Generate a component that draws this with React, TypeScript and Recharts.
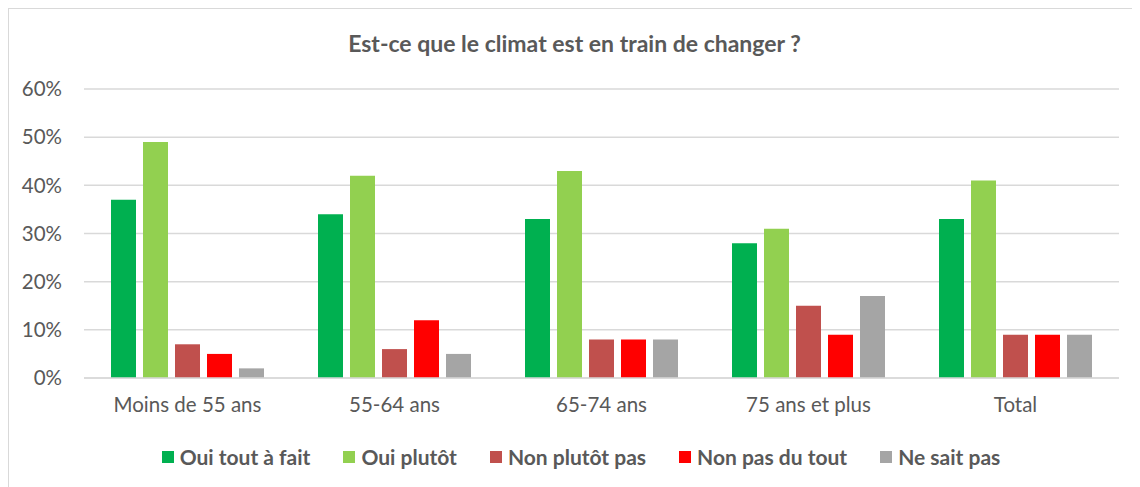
import React from 'react';
import { BarChart, Bar, XAxis, YAxis, CartesianGrid, Legend } from 'recharts';

const categories = ['Moins de 55 ans', '55-64 ans', '65-74 ans', '75 ans et plus', 'Total'];
const ouiToutAFait = [37, 34, 33, 28, 33];
const ouiPlutot = [49, 42, 43, 31, 41];
const nonPlutotPas = [7, 6, 8, 15, 9];
const nonPasDuTout = [5, 12, 8, 9, 9];
const neSaitPas = [2, 5, 8, 17, 9];
const yTicks = [0, 10, 20, 30, 40, 50, 60];

const series = [
  { key: 'ouiToutAFait', name: 'Oui tout à fait', color: '#00B050' },
  { key: 'ouiPlutot', name: 'Oui plutôt', color: '#92D050' },
  { key: 'nonPlutotPas', name: 'Non plutôt pas', color: '#C0504D' },
  { key: 'nonPasDuTout', name: 'Non pas du tout', color: '#FF0000' },
  { key: 'neSaitPas', name: 'Ne sait pas', color: '#A5A5A5' },
];

const data = categories.map((cat, i) => ({
  cat,
  ouiToutAFait: ouiToutAFait[i],
  ouiPlutot: ouiPlutot[i],
  nonPlutotPas: nonPlutotPas[i],
  nonPasDuTout: nonPasDuTout[i],
  neSaitPas: neSaitPas[i],
}));

const FONT = 'Lato, "Open Sans", sans-serif';
const TEXT = '#595959';

const LegendContent = () => (
  <div style={{ display: 'flex', justifyContent: 'center', gap: 33, paddingTop: 26, paddingLeft: 34, fontFamily: FONT, fontWeight: 700, fontSize: 21, color: TEXT }}>
    {series.map((s) => (
      <div key={s.key} style={{ display: 'flex', alignItems: 'center' }}>
        <span style={{ width: 12, height: 12, background: s.color, marginRight: 6, display: 'inline-block' }} />
        <span>{s.name}</span>
      </div>
    ))}
  </div>
);

export default function App() {
  return (
    <div style={{ position: 'relative', width: 1132, height: 479, boxSizing: 'border-box', borderLeft: '1px solid #d9d9d9', borderTop: '1px solid #d9d9d9', background: '#fff' }}>
      <div style={{ position: 'absolute', top: 20, left: 0, width: 1131, textAlign: 'center', fontFamily: FONT, fontWeight: 700, fontSize: 23, color: TEXT }}>
        Est-ce que le climat est en train de changer ?
      </div>
      <BarChart
        width={1131}
        height={478}
        data={data}
        margin={{ top: 80, right: 21, left: 0, bottom: 0 }}
        barCategoryGap={27}
        barGap={7}
      >
        <CartesianGrid vertical={false} stroke="#d9d9d9" strokeWidth={1.5} />
        <XAxis
          dataKey="cat"
          height={40}
          tickLine={false}
          tickSize={0}
          tickMargin={19}
          axisLine={{ stroke: '#d9d9d9', strokeWidth: 1.5 }}
          tick={{ fill: TEXT, fontSize: 20.5, fontFamily: FONT }}
        />
        <YAxis
          width={75}
          domain={[0, 60]}
          ticks={yTicks}
          tickFormatter={(v) => `${v}%`}
          tickLine={false}
          tickSize={0}
          tickMargin={22}
          axisLine={false}
          tick={{ fill: TEXT, fontSize: 20.5, fontFamily: FONT }}
        />
        <Legend verticalAlign="bottom" height={69} content={<LegendContent />} />
        {series.map((s) => (
          <Bar key={s.key} dataKey={s.key} name={s.name} fill={s.color} isAnimationActive={false} />
        ))}
      </BarChart>
    </div>
  );
}
